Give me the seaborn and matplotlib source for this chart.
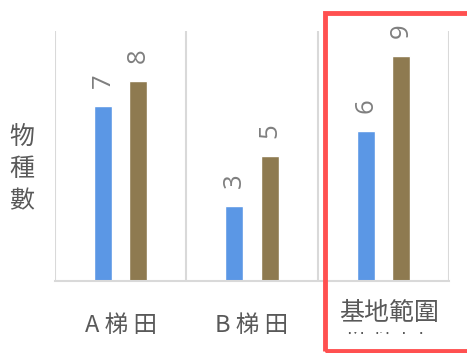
import matplotlib
matplotlib.use("Agg")
import matplotlib.pyplot as plt
from matplotlib.patches import Rectangle
import seaborn as sns
import pandas as pd

categories = ["A 梯 田", "B 梯 田", "新 梯 田"]
series_names = ["S1", "S2"]
series1 = [7, 3, 6]
series2 = [8, 5, 9]
overlay_label = "基地範圍"
ylabel = "物\n種\n數"

df = pd.DataFrame({
    "cat": categories * 2,
    "series": [series_names[0]] * 3 + [series_names[1]] * 3,
    "value": series1 + series2,
})

sns.set_theme(style="white")
plt.rcParams['font.family'] = ['Noto Sans CJK TC', 'DejaVu Sans']

fig = plt.figure(figsize=(4.67, 3.53), dpi=100)
ax = fig.add_axes([55/467, 1-281/353, (449-55)/467, 250/353])

sns.barplot(data=df, x="cat", y="value", hue="series", order=categories,
            hue_order=series_names, palette=["#5B97E5", "#8E7A50"],
            width=0.535, gap=0.49, legend=False, ax=ax, saturation=1)

for c in ax.containers:
    ax.bar_label(c, fmt="%d", rotation=90, padding=13, fontsize=18.5,
                 color="#7F7F7F", family=['Open Sans', 'DejaVu Sans'])

ax.set_ylim(0, 10)
ax.set_xlim(-0.5, 2.5)
for xv in [-0.5, 0.5, 1.5, 2.5]:
    ax.axvline(xv, color="#D9D9D9", lw=1.5, zorder=0)
for s in ["top", "left", "right"]:
    ax.spines[s].set_visible(False)
ax.spines["bottom"].set_color("#D9D9D9")
ax.spines["bottom"].set_linewidth(1.5)
ax.set_yticks([])
ax.set_xlabel("")
ax.set_ylabel("")
ax.tick_params(axis="x", length=0, pad=24, labelsize=17, labelcolor="#595959")

fig.text(22/467, 1-169/353, ylabel, ha="center", va="center", fontsize=18,
         color="#595959", linespacing=1.3)

# white cover with overlay label
fig.patches.append(Rectangle((332/467, 1-331.5/353), 115/467, 40/353,
                             transform=fig.transFigure, facecolor="white",
                             edgecolor="none", zorder=5))
fig.text(389/467, 1-313/353, overlay_label, ha="center", va="center",
         fontsize=18, color="#595959", zorder=6)

# red highlight box
fig.patches.append(Rectangle((324.5/467, 1-351/353), 160/467, 338/353,
                             transform=fig.transFigure, facecolor="none",
                             edgecolor="#FF5050", lw=3.5, zorder=7))

fig.savefig("out.png", dpi=100)
